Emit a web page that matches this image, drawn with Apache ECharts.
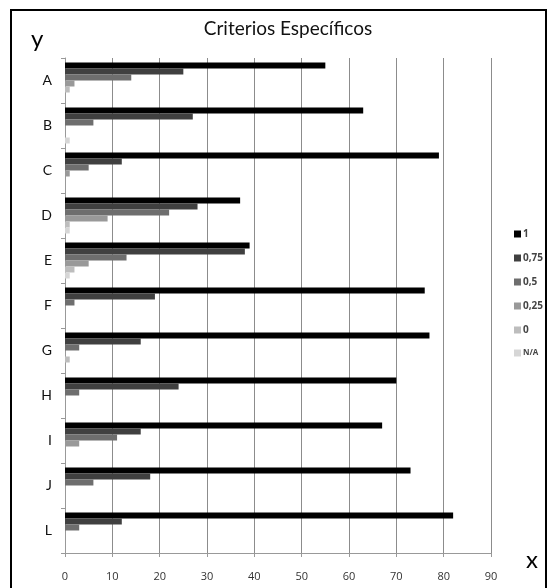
<!DOCTYPE html>
<html>
<head>
<meta charset="utf-8">
<script src="https://cdn.jsdelivr.net/npm/echarts@6/dist/echarts.min.js"></script>
<style>
  html, body { margin: 0; padding: 0; background: #fff; }
  #chart { width: 555px; height: 588px; }
</style>
</head>
<body>
<div id="chart"></div>
<script>
var categories = ['A', 'B', 'C', 'D', 'E', 'F', 'G', 'H', 'I', 'J', 'L'];
var seriesNames = ['1', '0,75', '0,5', '0,25', '0', 'N/A'];
var colors = ['#000000', '#404040', '#6e6e6e', '#999999', '#bdbdbd', '#d6d6d6'];

// one array per answer level
var v1    = [55, 63, 79, 37, 39, 76, 77, 70, 67, 73, 82];
var v075  = [25, 27, 12, 28, 38, 19, 16, 24, 16, 18, 12];
var v05   = [14, 6, 5, 22, 13, 2, 3, 3, 11, 6, 3];
var v025  = [2, 0, 1, 9, 5, 0, 0, 0, 3, 0, 0];
var v0    = [1, 0, 0, 1, 2, 0, 1, 0, 0, 0, 0];
var vNA   = [0, 1, 0, 1, 1, 0, 0, 0, 0, 0, 0];

var xTicks = [0, 10, 20, 30, 40, 50, 60, 70, 80, 90];

var values = [v1, v075, v05, v025, v0, vNA];

var chart = echarts.init(document.getElementById('chart'), null, { renderer: 'canvas' });

var series = seriesNames.map(function (name, i) {
  return {
    name: name,
    type: 'bar',
    data: values[i],
    barGap: '0%',
    barCategoryGap: '20%',
    itemStyle: { color: colors[i] },
    animation: false
  };
});

var option = {
  backgroundColor: '#fff',
  title: {
    text: 'Criterios Específicos',
    left: 283,
    textAlign: 'center',
    top: 14,
    textStyle: { fontFamily: 'Lato', fontWeight: 'normal', fontSize: 19, color: '#111' }
  },
  legend: {
    orient: 'vertical',
    left: 509,
    top: 224,
    itemWidth: 7,
    itemHeight: 7,
    itemGap: 14,
    icon: 'rect',
    data: seriesNames,
    formatter: function (name) {
      return name === 'N/A' ? '{s|N/A}' : name;
    },
    textStyle: {
      fontFamily: 'Open Sans',
      fontSize: 10,
      fontWeight: 'bold',
      color: '#444',
      padding: [0, 0, 0, -3],
      rich: { s: { fontSize: 8, fontFamily: 'Open Sans', fontWeight: 'bold', color: '#444' } }
    }
  },
  grid: { left: 65, right: 64, top: 58, bottom: 35, containLabel: false },
  xAxis: {
    type: 'value',
    min: xTicks[0],
    max: xTicks[xTicks.length - 1],
    interval: 10,
    axisLine: { show: true, lineStyle: { color: '#999' } },
    axisTick: { show: true, length: 4, lineStyle: { color: '#999' } },
    axisLabel: { margin: 18, fontFamily: 'Open Sans', fontSize: 11, color: '#333' },
    splitLine: { show: true, lineStyle: { color: '#8c8c8c', width: 1 } }
  },
  yAxis: {
    type: 'category',
    data: categories,
    inverse: true,
    axisLine: { show: true, lineStyle: { color: '#999' } },
    axisTick: { show: true, length: 4, lineStyle: { color: '#999' } },
    axisLabel: { margin: 13, fontFamily: 'Lato', fontSize: 14, color: '#111' },
    splitLine: { show: false }
  },
  graphic: [
    {
      type: 'rect',
      shape: { x: 11, y: 10, width: 535, height: 600 },
      style: { fill: 'none', stroke: '#000', lineWidth: 2 }
    },
    {
      type: 'text',
      left: 31, top: 27,
      style: { text: 'y', font: '24px Lato', fill: '#000' }
    },
    {
      type: 'text',
      left: 526, top: 548,
      style: { text: 'x', font: '24px Lato', fill: '#000' }
    }
  ],
  series: series
};

chart.setOption(option);
</script>
</body>
</html>
